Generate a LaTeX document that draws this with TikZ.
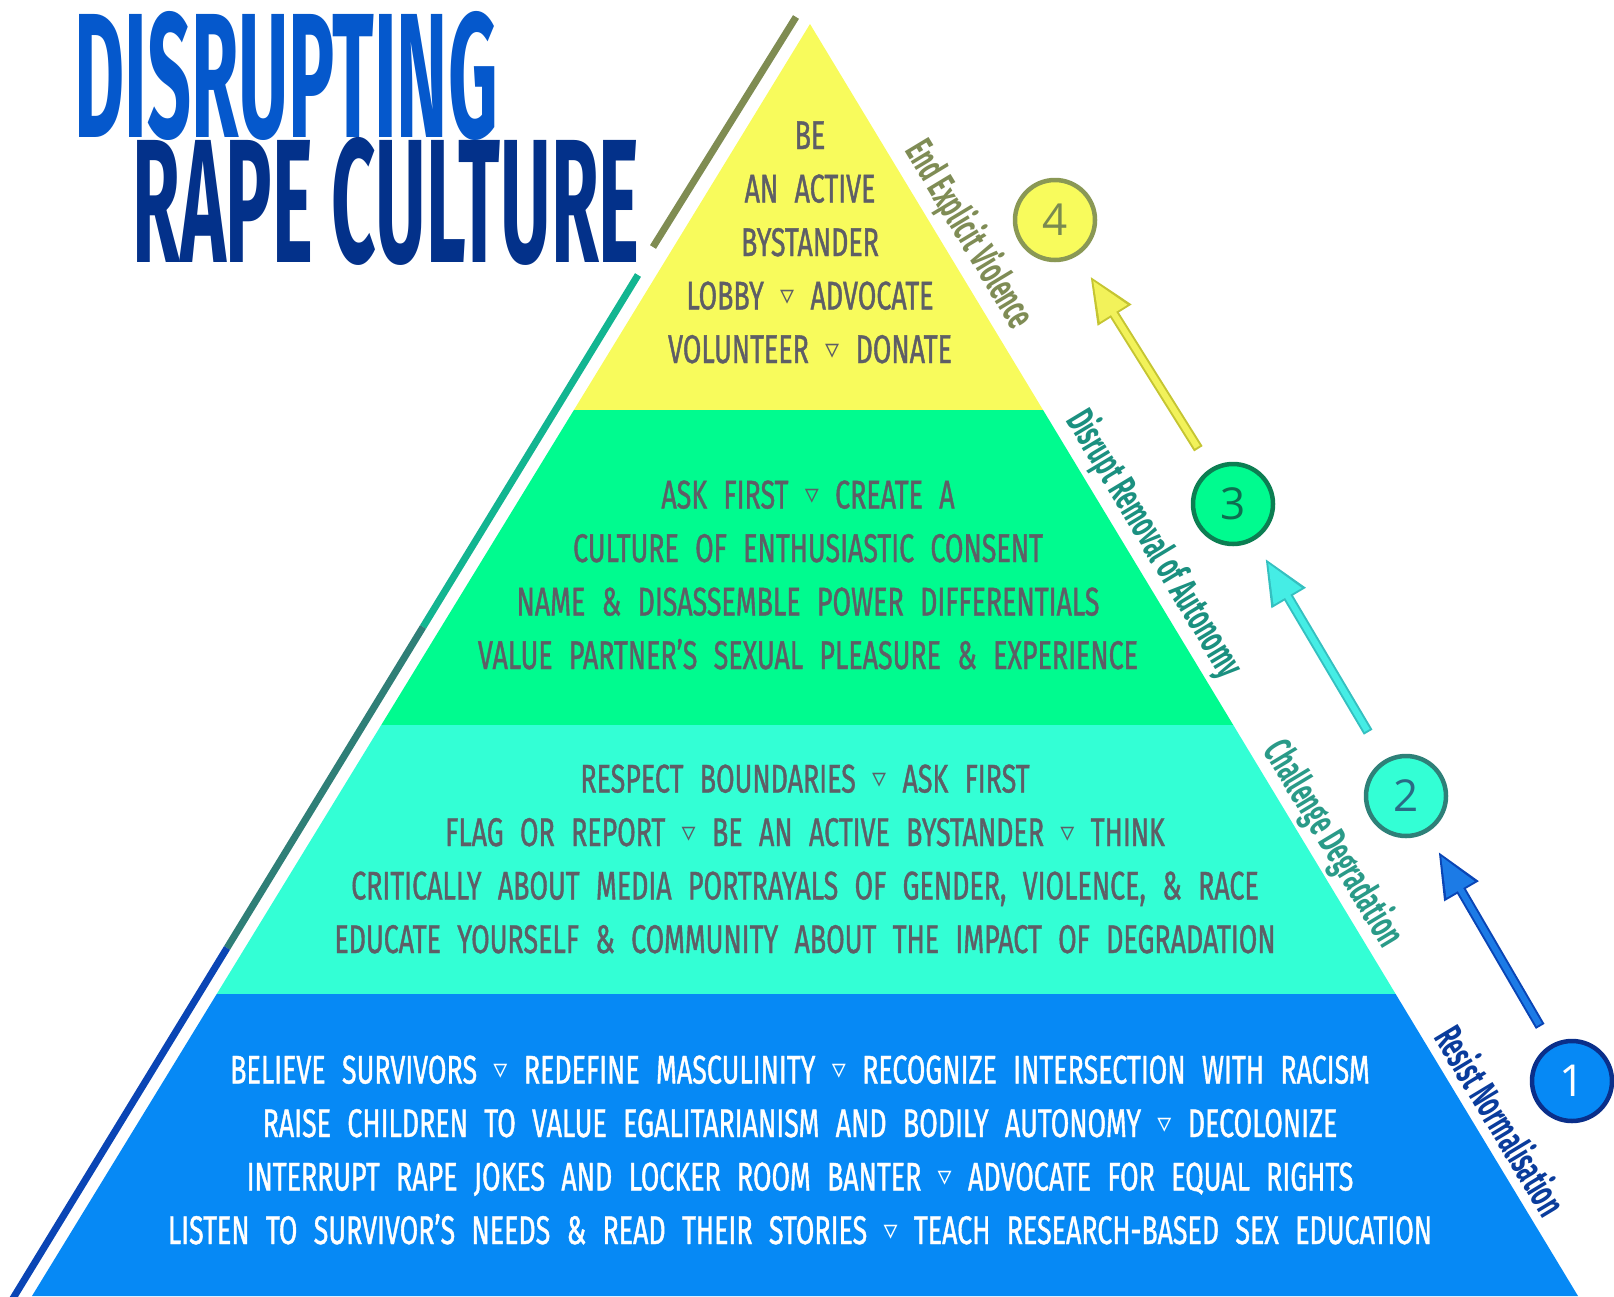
\documentclass[tikz,border=0pt]{standalone}
\usepackage{fontspec}
\usepackage{graphicx}
\setmainfont{Fira Sans}
\newfontfamily\bandfont[FakeStretch=0.67,WordSpace=2.3,FakeBold=1]{Fira Sans}
\newfontfamily\titlefont[FakeStretch=0.42]{Fira Sans}
\newfontfamily\edgefont[FakeStretch=0.56]{Fira Sans}
\newfontfamily\symfont{DejaVu Sans}
\newfontfamily\numfont{Open Sans}
\usetikzlibrary{arrows.meta, positioning, calc}

\definecolor{tierfour}{HTML}{F8FB5C}
\definecolor{tierthree}{HTML}{00FB8F}
\definecolor{tiertwo}{HTML}{33FFD5}
\definecolor{tierone}{HTML}{0689F5}
\definecolor{inkgray}{HTML}{5E5E66}
\definecolor{titleblue}{HTML}{0558CC}
\definecolor{titlenavy}{HTML}{03318A}
\definecolor{rimolive}{HTML}{7F8C52}
\definecolor{rimteal}{HTML}{12B591}
\definecolor{rimdark}{HTML}{2F7F77}
\definecolor{rimblue}{HTML}{0A45B5}
\definecolor{ringfour}{HTML}{8A9855}
\definecolor{ringthree}{HTML}{0C7E52}
\definecolor{ringtwo}{HTML}{2E8078}
\definecolor{ringone}{HTML}{0A2F8A}
\definecolor{numfour}{HTML}{7A8A50}
\definecolor{numthree}{HTML}{0E6E50}
\definecolor{numtwo}{HTML}{2A6B85}
\definecolor{labelfour}{HTML}{7F8C55}
\definecolor{labelthree}{HTML}{1B9080}
\definecolor{labeltwo}{HTML}{2A9A88}
\definecolor{labelone}{HTML}{0A3C9C}
\definecolor{arrowonefill}{HTML}{1C7BE6}
\definecolor{arrowoneedge}{HTML}{0A45B5}
\definecolor{arrowtwofill}{HTML}{45EDE5}
\definecolor{arrowtwoedge}{HTML}{35C0C0}
\definecolor{arrowthreefill}{HTML}{F2F25A}
\definecolor{arrowthreeedge}{HTML}{C5C532}

\newcommand{\bandsep}{{\symfont\fontsize{28}{28}\selectfont\raisebox{0.3ex}{▿}}}

\tikzset{
    bandtext/.style={
        font={\bandfont\fontsize{40}{53.5}\selectfont},
        text=inkgray,
        align=center,
        inner sep=0pt,
        anchor=base,
    },
    edgelabel/.style={
        font={\edgefont\bfseries\fontsize{40}{40}\selectfont},
        rotate=-58.9,
        inner sep=0pt,
    },
    tiernum/.style={
        circle,
        minimum size=80pt,
        line width=4.5pt,
        inner sep=0pt,
        font={\numfont\fontsize{44}{44}\selectfont},
    },
    rimline/.style={line width=7pt},
    arrowback/.style={line width=10pt, -{Triangle[length=46pt,width=37pt]}},
    arrowfront/.style={line width=6pt, -{Triangle[length=38.6pt,width=31pt]}},
}

\begin{document}
\begin{tikzpicture}[x=1pt, y=1pt]
   \useasboundingbox (0,0) rectangle (1614,-1296);

   % pyramid
   \coordinate (apex) at (810,-24);
   \coordinate (bl) at (32,-1296);
   \coordinate (br) at (1578,-1296);
   \coordinate (l1) at ($(apex)!0.30346!(bl)$);
   \coordinate (r1) at ($(apex)!0.30346!(br)$);
   \coordinate (l2) at ($(apex)!0.55110!(bl)$);
   \coordinate (r2) at ($(apex)!0.55110!(br)$);
   \coordinate (l3) at ($(apex)!0.76258!(bl)$);
   \coordinate (r3) at ($(apex)!0.76258!(br)$);
   \fill[tierfour] (apex) -- (l1) -- (r1) -- cycle;
   \fill[tierthree] (l1) -- (l2) -- (r2) -- (r1) -- cycle;
   \fill[tiertwo] (l2) -- (l3) -- (r3) -- (r2) -- cycle;
   \fill[tierone] (l3) -- (bl) -- (br) -- (r3) -- cycle;

   % rim lines on the left
   \draw[rimline, rimolive] (653,-247) -- (796,-17);
   \draw[rimline, rimteal] (638,-275) -- (423,-627);
   \draw[rimline, rimdark] (423,-627) -- (227,-948);
   \draw[rimline, rimblue] (227,-948) -- (12,-1300);

   % title
   \node[anchor=north west, inner sep=0pt, text=titleblue] (title) at (74,-11)
      {\resizebox{423pt}{126pt}{\titlefont\bfseries DISRUPTING}};
   \node[anchor=north west, inner sep=0pt, text=titlenavy] (subtitle) at (132,-137)
      {\resizebox{507pt}{125pt}{\titlefont\bfseries RAPE CULTURE}};

   % tier texts (anchored on the last line)
   \node[bandtext] (top) at (810,-363) {BE\\ AN ACTIVE\\ BYSTANDER\\
      LOBBY \bandsep{} ADVOCATE\\ VOLUNTEER \bandsep{} DONATE};
   \node[bandtext] (consent) at (808,-669) {ASK FIRST \bandsep{} CREATE A\\
      CULTURE OF ENTHUSIASTIC CONSENT\\
      NAME \& DISASSEMBLE POWER DIFFERENTIALS\\
      VALUE PARTNER’S SEXUAL PLEASURE \& EXPERIENCE};
   \node[bandtext] (respect) at (805,-953) {RESPECT BOUNDARIES \bandsep{} ASK FIRST\\
      FLAG OR REPORT \bandsep{} BE AN ACTIVE BYSTANDER \bandsep{} THINK\\
      CRITICALLY ABOUT MEDIA PORTRAYALS OF GENDER, VIOLENCE, \& RACE\\
      EDUCATE YOURSELF \& COMMUNITY ABOUT THE IMPACT OF DEGRADATION};
   \node[bandtext, text=white] (base) at (800,-1244)
      {BELIEVE SURVIVORS \bandsep{} REDEFINE MASCULINITY \bandsep{} RECOGNIZE INTERSECTION WITH RACISM\\
      RAISE CHILDREN TO VALUE EGALITARIANISM AND BODILY AUTONOMY \bandsep{} DECOLONIZE\\
      INTERRUPT RAPE JOKES AND LOCKER ROOM BANTER \bandsep{} ADVOCATE FOR EQUAL RIGHTS\\
      LISTEN TO SURVIVOR’S NEEDS \& READ THEIR STORIES \bandsep{} TEACH RESEARCH-BASED SEX EDUCATION};

   % labels along the right edge
   \node[edgelabel, text=labelfour] (lab4) at (969,-235) {End Explicit Violence};
   \node[edgelabel, text=labelthree] (lab3) at (1154,-544) {Disrupt Removal of Autonomy};
   \node[edgelabel, text=labeltwo] (lab2) at (1333,-844) {Challenge Degradation};
   \node[edgelabel, text=labelone] (lab1) at (1502,-1120) {Resist Normalisation};

   % steps
   \node[tiernum, fill=tierfour, draw=ringfour, text=numfour] (c4) at (1055,-220) {4};
   \node[tiernum, fill=tierthree, draw=ringthree, text=numthree] (c3) at (1233,-504) {3};
   \node[tiernum, fill=tiertwo, draw=ringtwo, text=numtwo] (c2) at (1406,-796) {2};
   \node[tiernum, fill=tierone, draw=ringone, text=white] (c1) at (1572,-1081) {1};

   \draw[arrowback, color=arrowoneedge, shorten <=21pt, shorten >=22pt] (c1) -- (c2);
   \draw[arrowfront, color=arrowonefill, shorten <=23pt, shorten >=27.4pt] (c1) -- (c2);
   \draw[arrowback, color=arrowtwoedge, shorten <=32pt, shorten >=21pt] (c2) -- (c3);
   \draw[arrowfront, color=arrowtwofill, shorten <=34pt, shorten >=26.4pt] (c2) -- (c3);
   \draw[arrowback, color=arrowthreeedge, shorten <=23pt, shorten >=24pt] (c3) -- (c4);
   \draw[arrowfront, color=arrowthreefill, shorten <=25pt, shorten >=29.4pt] (c3) -- (c4);
\end{tikzpicture}
\end{document}
